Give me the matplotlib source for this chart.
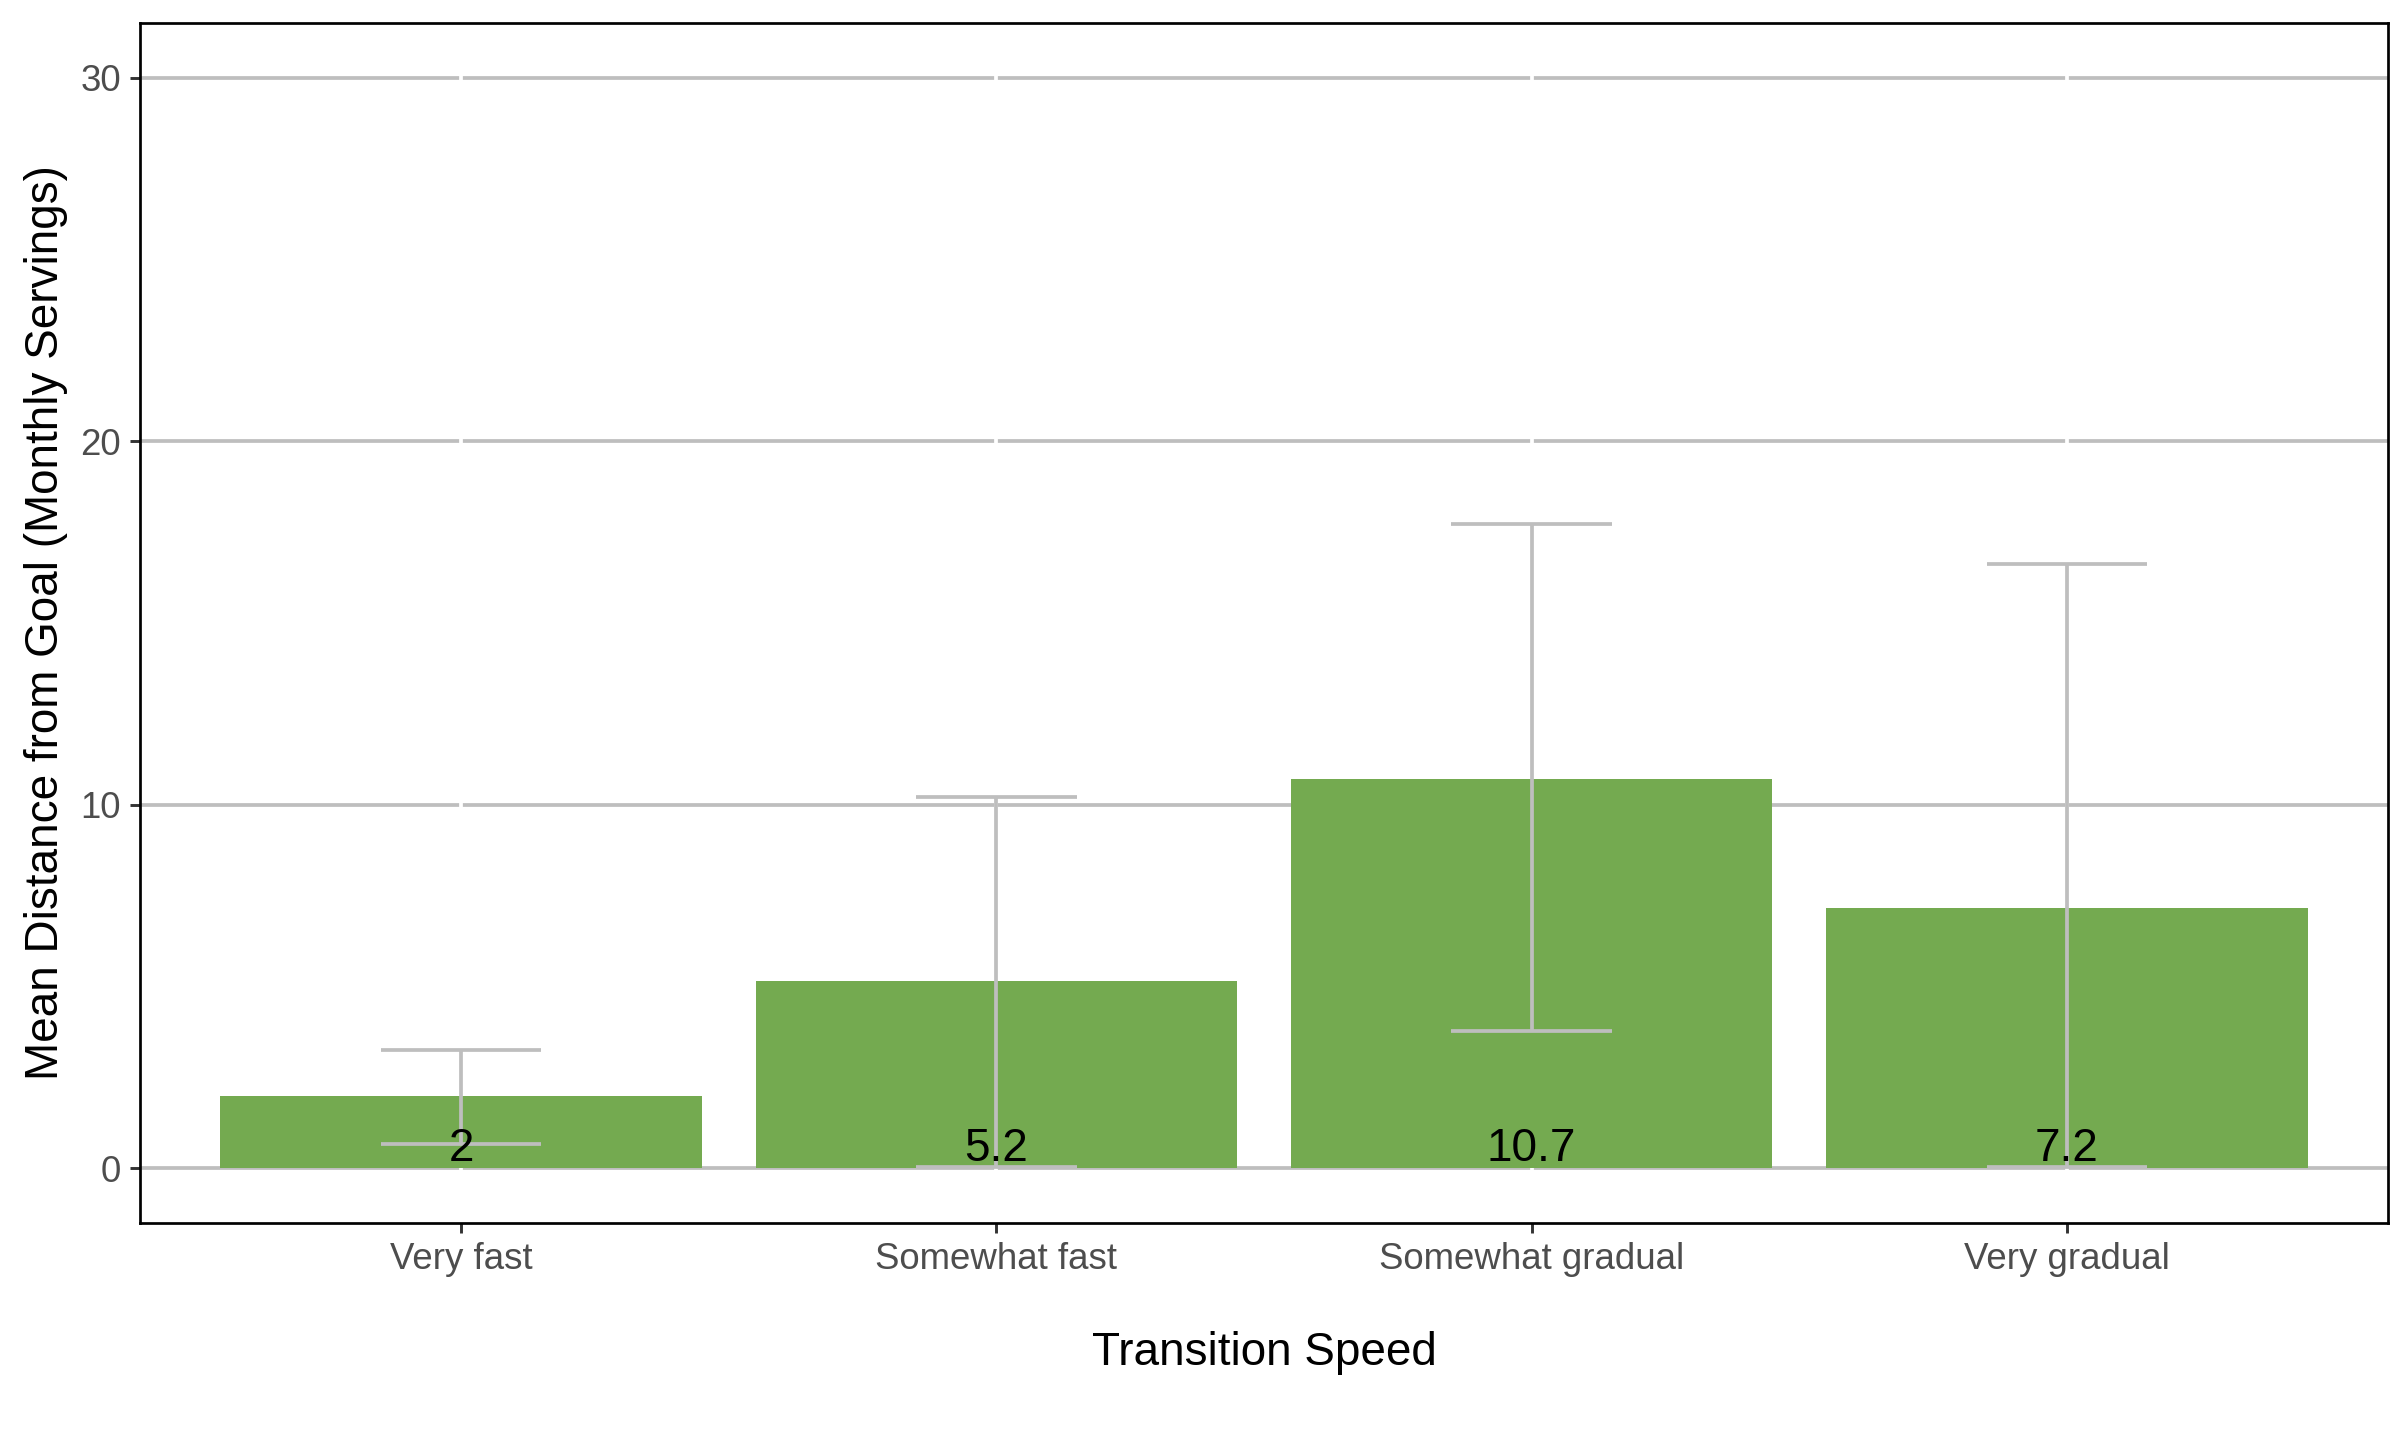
import numpy as np
from matplotlib import pyplot as plt

categories = ["Very fast", "Somewhat fast", "Somewhat gradual", "Very gradual"]
mean_dist = [1.98, 5.15, 10.72, 7.16]
err_low = [0.68, 0.05, 3.77, 0.05]
err_high = [3.26, 10.21, 17.71, 16.61]
y_ticks = [0, 10, 20, 30]

BAR_COLOR = "#74AA50"
GRID_COLOR = "#BEBEBE"
TICK_COLOR = "#333333"
TICK_LABEL_COLOR = "#4D4D4D"


def fmt(v: float) -> str:
    s = f"{round(v, 1):.1f}"
    return s[:-2] if s.endswith(".0") else s


def main() -> None:
    plt.rcParams["font.family"] = ["Liberation Sans", "DejaVu Sans"]

    fig = plt.figure(figsize=(8, 1450 / 300), dpi=300)
    ax = fig.add_axes((140 / 2400, 1 - 1223 / 1450, (2388 - 140) / 2400, (1223 - 23) / 1450))

    x = np.arange(1, len(categories) + 1)
    mean = np.array(mean_dist)
    lo = np.array(err_low)
    hi = np.array(err_high)

    ax.bar(x, mean, width=0.9, color=BAR_COLOR, zorder=2)
    ax.errorbar(
        x, mean, yerr=[mean - lo, hi - mean], fmt="none",
        ecolor=GRID_COLOR, elinewidth=0.9, capsize=0, zorder=3,
    )
    # caps drawn as short horizontal segments, 0.3 wide in data units
    ax.hlines(lo, x - 0.15, x + 0.15, color=GRID_COLOR, linewidth=0.9, zorder=3)
    ax.hlines(hi, x - 0.15, x + 0.15, color=GRID_COLOR, linewidth=0.9, zorder=3)

    for xi, m in zip(x, mean):
        ax.annotate(
            fmt(m), xy=(xi, 0), xytext=(0, 1.7), textcoords="offset points",
            ha="center", va="baseline", fontsize=11, color="black", zorder=4,
        )

    ax.set_xlim(0.4, len(categories) + 0.6)
    ax.set_ylim(-1.5, 31.5)
    ax.set_xticks(x)
    ax.set_xticklabels(categories)
    ax.set_yticks(y_ticks)

    ax.set_axisbelow(True)
    ax.yaxis.grid(True, color=GRID_COLOR, linewidth=0.9)
    ax.xaxis.grid(True, color="white", linewidth=0.9)
    ax.xaxis.set_zorder(0.6)

    ax.tick_params(
        axis="both", length=2.4, width=0.7, color=TICK_COLOR,
        labelsize=8.8, labelcolor=TICK_LABEL_COLOR, pad=2.2,
    )
    for spine in ax.spines.values():
        spine.set_linewidth(0.65)
        spine.set_color("black")
        spine.set_zorder(5)

    ax.set_xlabel("Transition Speed", fontsize=11, labelpad=13)
    ax.set_ylabel("Mean Distance from Goal (Monthly Servings)", fontsize=11, labelpad=3)

    fig.savefig("out.png", dpi=300, facecolor="white")


if __name__ == "__main__":
    main()
